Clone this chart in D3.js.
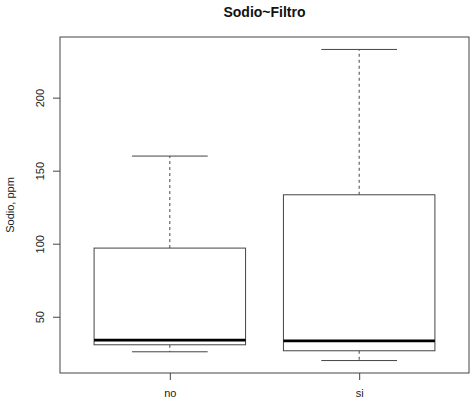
<!DOCTYPE html>
<html>
<head>
<meta charset="utf-8">
<script src="https://cdn.jsdelivr.net/npm/d3@7"></script>
<style>
  body { margin: 0; background: #fff; }
  text { font-family: "Liberation Sans", Arial, sans-serif; }
</style>
</head>
<body>
<svg id="chart" width="471" height="402"></svg>
<script>
// boxplot stats (Sodio, ppm)
var groups = ["no", "si"];
var whiskerLow = [26, 20];
var q1 = [30.8, 26.7];
var median = [34, 33.5];
var q3 = [97, 133.5];
var whiskerHigh = [160, 233];
var yTicks = [50, 100, 150, 200];

var svg = d3.select("#chart");
var plotL = 60, plotR = 469, plotT = 37, plotB = 373;

// R style: 4% padding on both axes
var lo = d3.min(whiskerLow), hi = d3.max(whiskerHigh);
var pad = (hi - lo) * 0.04;
var y = d3.scaleLinear().domain([lo - pad, hi + pad]).range([plotB, plotT]);
var x = d3.scaleLinear().domain([0.42, 2.58]).range([plotL, plotR]);
var boxW = x(1.4) - x(1);       // half width of box (boxwex 0.8)
var capW = boxW / 2;            // staplewex 0.5

var stroke = "#444";

var g = svg.append("g");

var boxes = g.selectAll(".box")
  .data(groups)
  .enter().append("g")
  .attr("class", "box");

// dashed whiskers
boxes.append("line")
  .attr("x1", function(d, i){ return x(i + 1); })
  .attr("x2", function(d, i){ return x(i + 1); })
  .attr("y1", function(d, i){ return y(q3[i]); })
  .attr("y2", function(d, i){ return y(whiskerHigh[i]); })
  .attr("stroke", stroke).attr("stroke-dasharray", "3,3");
boxes.append("line")
  .attr("x1", function(d, i){ return x(i + 1); })
  .attr("x2", function(d, i){ return x(i + 1); })
  .attr("y1", function(d, i){ return y(q1[i]); })
  .attr("y2", function(d, i){ return y(whiskerLow[i]); })
  .attr("stroke", stroke).attr("stroke-dasharray", "3,3");

// caps
[whiskerHigh, whiskerLow].forEach(function(arr){
  boxes.append("line")
    .attr("x1", function(d, i){ return x(i + 1) - capW; })
    .attr("x2", function(d, i){ return x(i + 1) + capW; })
    .attr("y1", function(d, i){ return y(arr[i]); })
    .attr("y2", function(d, i){ return y(arr[i]); })
    .attr("stroke", stroke);
});

// box
boxes.append("rect")
  .attr("x", function(d, i){ return x(i + 1) - boxW; })
  .attr("width", boxW * 2)
  .attr("y", function(d, i){ return y(q3[i]); })
  .attr("height", function(d, i){ return y(q1[i]) - y(q3[i]); })
  .attr("fill", "#fff").attr("stroke", stroke);

// median
boxes.append("line")
  .attr("x1", function(d, i){ return x(i + 1) - boxW; })
  .attr("x2", function(d, i){ return x(i + 1) + boxW; })
  .attr("y1", function(d, i){ return y(median[i]); })
  .attr("y2", function(d, i){ return y(median[i]); })
  .attr("stroke", "#000").attr("stroke-width", 2.6);

// frame
svg.append("rect")
  .attr("x", plotL).attr("y", plotT)
  .attr("width", plotR - plotL).attr("height", plotB - plotT)
  .attr("fill", "none").attr("stroke", stroke);

// y axis
var yAxis = svg.append("g")
  .attr("transform", "translate(" + plotL + ",0)")
  .call(d3.axisLeft(y).tickValues(yTicks).tickSize(7).tickSizeOuter(0));
yAxis.select(".domain").remove();
yAxis.selectAll("line").attr("stroke", stroke);
yAxis.selectAll("text")
  .attr("x", 0).attr("y", -16).attr("dy", null)
  .attr("text-anchor", "middle")
  .attr("transform", "rotate(-90)")
  .style("font-size", "11px").attr("fill", "#222");

// x axis
var xAxis = svg.append("g")
  .attr("transform", "translate(0," + plotB + ")")
  .call(d3.axisBottom(x).tickValues([1, 2]).tickFormat(function(d){ return groups[d - 1]; })
    .tickSize(7).tickPadding(9).tickSizeOuter(0));
xAxis.select(".domain").remove();
xAxis.selectAll("line").attr("stroke", stroke);
xAxis.selectAll("text").style("font-size", "11px").attr("fill", "#222");

// labels
svg.append("text")
  .attr("transform", "translate(14," + ((plotT + plotB) / 2) + ") rotate(-90)")
  .attr("text-anchor", "middle")
  .style("font-size", "11px").attr("fill", "#222")
  .text("Sodio, ppm");

svg.append("text")
  .attr("x", (plotL + plotR) / 2).attr("y", 17)
  .attr("text-anchor", "middle")
  .style("font-size", "14px").style("font-weight", "bold").attr("fill", "#111")
  .text("Sodio~Filtro");
</script>
</body>
</html>
